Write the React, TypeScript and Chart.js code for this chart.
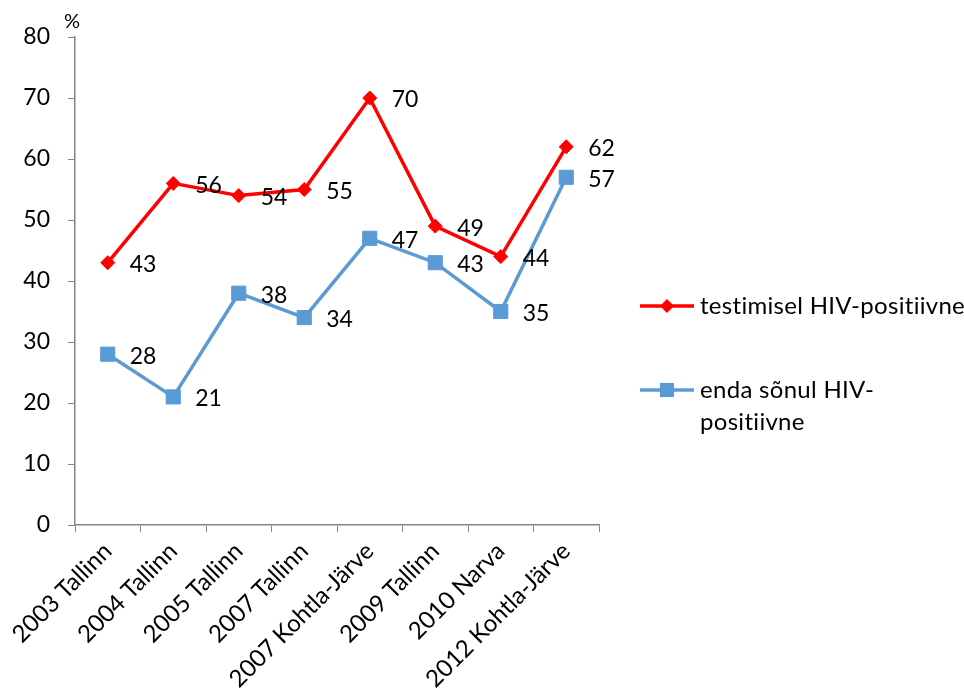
import React, { useEffect, useRef } from "react";
import { Chart, registerables } from "chart.js";

Chart.register(...registerables);

const categories = [
  "2003 Tallinn",
  "2004 Tallinn",
  "2005 Tallinn",
  "2007 Tallinn",
  "2007 Kohtla-Järve",
  "2009 Tallinn",
  "2010 Narva",
  "2012 Kohtla-Järve",
];
const testedValues = [43, 56, 54, 55, 70, 49, 44, 62];
const selfReportedValues = [28, 21, 38, 34, 47, 43, 35, 57];
const testedName = ["testimisel HIV-positiivne"];
const selfReportedName = ["enda sõnul HIV-", "positiivne"];
const yMin = 0;
const yMax = 80;
const yStep = 10;
const unitLabel = "%";

const FONT = "Lato, 'Open Sans', sans-serif";
const FONT_SIZE = 23;
const RED = "#FF0000";
const BLUE = "#5B9BD5";
const AXIS = "#868686";

function drawMarker(ctx: CanvasRenderingContext2D, style: string, x: number, y: number, r: number, color: string) {
  ctx.save();
  ctx.fillStyle = color;
  ctx.beginPath();
  if (style === "rectRot") {
    ctx.moveTo(x, y - r);
    ctx.lineTo(x + r, y);
    ctx.lineTo(x, y + r);
    ctx.lineTo(x - r, y);
    ctx.closePath();
  } else {
    const s = Math.SQRT1_2 * r;
    ctx.rect(x - s, y - s, 2 * s, 2 * s);
  }
  ctx.fill();
  ctx.restore();
}

const dataLabelPlugin = {
  id: "dataLabels",
  afterDatasetsDraw(chart: any) {
    const ctx = chart.ctx;
    ctx.save();
    ctx.font = `${FONT_SIZE}px ${FONT}`;
    ctx.fillStyle = "#000";
    ctx.textAlign = "left";
    ctx.textBaseline = "middle";
    chart.data.datasets.forEach((ds: any, i: number) => {
      const meta = chart.getDatasetMeta(i);
      meta.data.forEach((pt: any, j: number) => {
        ctx.fillText(String(ds.data[j]), pt.x + 22, pt.y + 2);
      });
    });
    ctx.restore();
  },
};

const customLegendPlugin = {
  id: "customLegend",
  afterDraw(chart: any) {
    const ctx = chart.ctx;
    const area = chart.chartArea;
    const x0 = area.right + 41;
    const rows = [306, 390];
    ctx.save();
    ctx.font = `24px ${FONT}`;
    (ctx as any).letterSpacing = "0.3px";
    ctx.textAlign = "left";
    ctx.textBaseline = "middle";
    chart.data.datasets.forEach((ds: any, i: number) => {
      const y = rows[i];
      ctx.strokeStyle = ds.borderColor;
      ctx.lineWidth = ds.borderWidth;
      ctx.beginPath();
      ctx.moveTo(x0, y);
      ctx.lineTo(x0 + 54, y);
      ctx.stroke();
      drawMarker(ctx, ds.pointStyle, x0 + 27, y, ds.pointRadius, ds.pointBackgroundColor);
      ctx.fillStyle = "#000";
      const lines: string[] = ds.legendLines;
      lines.forEach((ln, k) => ctx.fillText(ln, x0 + 60, y + k * 32));
    });
    ctx.restore();
  },
};

const unitPlugin = {
  id: "unitLabel",
  afterDraw(chart: any) {
    const ctx = chart.ctx;
    const y = chart.scales.y;
    ctx.save();
    ctx.font = `${FONT_SIZE - 3}px ${FONT}`;
    ctx.fillStyle = "#000";
    ctx.textAlign = "center";
    ctx.textBaseline = "middle";
    ctx.fillText(unitLabel, y.right - 3, y.top - 15);
    ctx.restore();
  },
};

export default function App() {
  const ref = useRef<HTMLCanvasElement | null>(null);
  useEffect(() => {
    if (!ref.current) return;
    const chart = new Chart(ref.current, {
      type: "line",
      data: {
        labels: categories,
        datasets: [
          {
            label: testedName.join(" "),
            legendLines: testedName,
            data: testedValues,
            borderColor: RED,
            backgroundColor: RED,
            pointBackgroundColor: RED,
            pointBorderColor: RED,
            borderWidth: 3.5,
            pointStyle: "rectRot",
            pointRadius: 7,
            pointBorderWidth: 1,
            tension: 0,
          } as any,
          {
            label: selfReportedName.join(" "),
            legendLines: selfReportedName,
            data: selfReportedValues,
            borderColor: BLUE,
            backgroundColor: BLUE,
            pointBackgroundColor: BLUE,
            pointBorderColor: BLUE,
            borderWidth: 3.5,
            pointStyle: "rect",
            pointRadius: 10,
            pointBorderWidth: 1,
            tension: 0,
          } as any,
        ],
      },
      options: {
        responsive: false,
        animation: false,
        devicePixelRatio: 1,
        layout: { padding: { top: 37, right: 365, left: 0, bottom: 0 } },
        plugins: {
          legend: { display: false },
          tooltip: { enabled: false },
        },
        scales: {
          x: {
            offset: true,
            border: { color: AXIS, width: 1.5 },
            grid: {
              display: true,
              drawOnChartArea: false,
              drawTicks: true,
              tickLength: 7,
              color: AXIS,
              offset: true,
            },
            ticks: {
              autoSkip: false,
              minRotation: 45,
              maxRotation: 45,
              padding: 5,
              color: "#000",
              font: { family: FONT, size: 24 },
            },
            afterFit(scale: any) {
              scale.height = 170;
            },
          },
          y: {
            min: yMin,
            max: yMax,
            border: { color: AXIS, width: 1.5 },
            grid: {
              display: true,
              drawOnChartArea: false,
              drawTicks: true,
              tickLength: 7,
              color: AXIS,
            },
            ticks: {
              stepSize: yStep,
              padding: 18,
              color: "#000",
              font: { family: FONT, size: FONT_SIZE },
            },
            afterFit(scale: any) {
              scale.width = 75;
            },
          },
        },
      },
      plugins: [dataLabelPlugin, customLegendPlugin, unitPlugin],
    });
    return () => chart.destroy();
  }, []);
  return (
    <div style={{ position: "absolute", left: 0, top: 0, width: 964, height: 695, background: "#fff" }}>
      <canvas ref={ref} width={964} height={695} style={{ width: 964, height: 695, display: "block" }} />
    </div>
  );
}
